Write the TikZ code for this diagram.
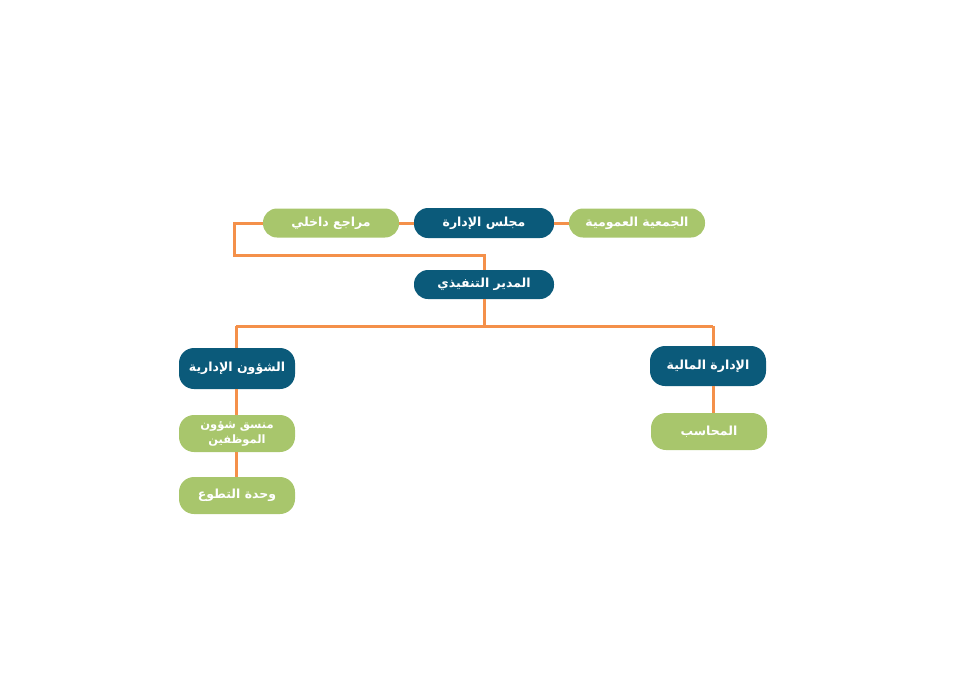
\documentclass[tikz,border=0pt]{standalone}
\usepackage{fontspec}
\newfontfamily\arabicfont[Script=Arabic]{DejaVu Sans}
\TeXXeTstate=1
\definecolor{dblue}{HTML}{0B5A7A}
\definecolor{lgreen}{HTML}{A8C66C}
\definecolor{orng}{HTML}{F4904A}
\tikzset{
  box/.style={rounded corners=14pt, minimum width=#1, inner sep=0pt, text=white,
    font=\arabicfont\bfseries\fontsize{12.5}{14}\selectfont, align=center},
  darkbox/.style={box=#1, fill=dblue},
  greenbox/.style={box=#1, fill=lgreen},
  link/.style={draw=orng, line width=3pt}
}
\begin{document}
\begin{tikzpicture}[x=1pt,y=-1pt]
\useasboundingbox (0,0) rectangle (971,686);
\coordinate (c1) at (234,223);
\coordinate (c2) at (234,255);
\coordinate (c3) at (484,255);
\coordinate (c4) at (484,326);
\coordinate (c5) at (236,326);
\coordinate (c6) at (713,326);

\node[darkbox=140pt, minimum height=30pt] (board) at (484,223) {\beginR مجلس الإدارة\endR};
\node[greenbox=136pt, minimum height=29pt] (audit) at (331,223) {\beginR مراجع داخلي\endR};
\node[greenbox=136pt, minimum height=29pt] (assembly) at (637,223) {\beginR الجمعية العمومية\endR};
\node[darkbox=140pt, minimum height=29pt] (ceo) at (484,284.5) {\beginR المدير التنفيذي\endR};
\node[darkbox=116pt, minimum height=41pt, rounded corners=15pt] (admin) at (237,368.5) {\beginR الشؤون الإدارية\endR};
\node[greenbox=116pt, minimum height=37pt, rounded corners=15pt, font=\arabicfont\bfseries\fontsize{11.5}{15}\selectfont] (staff) at (237,433.5) {\beginR منسق شؤون\endR\\\beginR الموظفين\endR};
\node[greenbox=116pt, minimum height=37pt, rounded corners=15pt] (vol) at (237,495.5) {\beginR وحدة التطوع\endR};
\node[darkbox=116pt, minimum height=40pt, rounded corners=15pt] (fin) at (708,366) {\beginR الإدارة المالية\endR};
\node[greenbox=116pt, minimum height=37pt, rounded corners=15pt] (acc) at (709,431.5) {\beginR المحاسب\endR};

\draw[link] (audit.west) -- (c1) -- (c2) -- (c3) -- (ceo.north);
\draw[link] (audit.east) -- (board.west);
\draw[link] (board.east) -- (assembly.west);
\draw[link] (ceo.south) -- (c4);
\draw[link] (c5) -- (c6);
\draw[link] (c5) -- (c5 |- admin.north);
\draw[link] (c6) -- (c6 |- fin.north);
\draw[link] (admin.south -| c5) -- (staff.north -| c5);
\draw[link] (staff.south -| c5) -- (vol.north -| c5);
\draw[link] (fin.south -| c6) -- (acc.north -| c6);
\end{tikzpicture}
\end{document}
